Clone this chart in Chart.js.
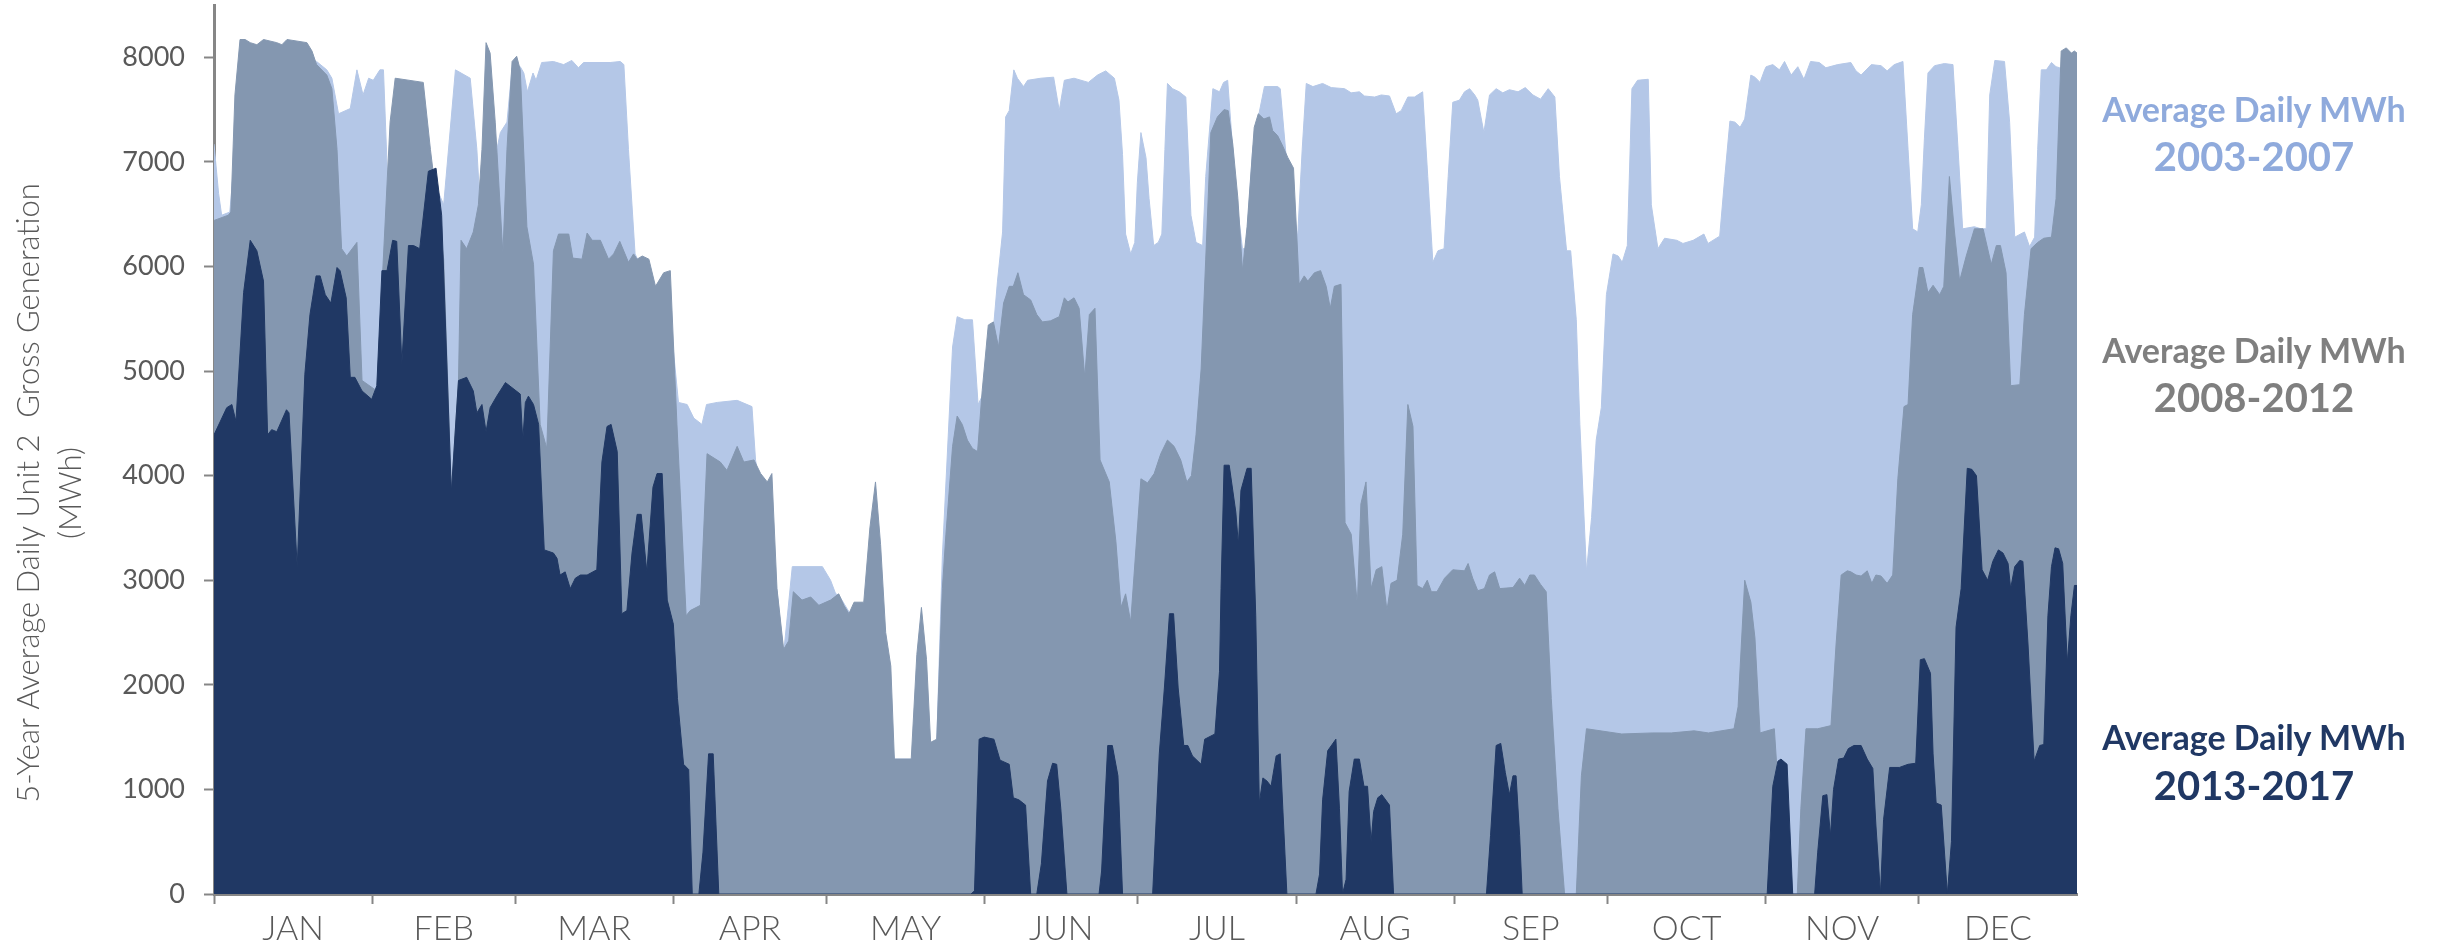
<!DOCTYPE html>
<html>
<head>
<meta charset="utf-8">
<script src="https://cdn.jsdelivr.net/npm/chart.js@4.4.0/dist/chart.umd.min.js"></script>
<style>
  html, body { margin: 0; padding: 0; background: #fff; }
  #wrap { position: relative; width: 2440px; height: 952px; }
  canvas { display: block; }
  .lbl { position: absolute; left: 2054px; width: 400px; text-align: center;
         font-family: Lato, "Open Sans", sans-serif; font-weight: 700; white-space: nowrap; }
  .l1 { font-size: 34px; line-height: 34px; }
  .l2 { font-size: 40px; line-height: 40px; }
</style>
</head>
<body>
<div id="wrap">
  <canvas id="mycanvas" width="2440" height="952"></canvas>
  <div class="lbl l1" style="top:92px;color:#8FAADC">Average Daily MWh</div>
  <div class="lbl l2" style="top:136px;color:#8FAADC">2003-2007</div>
  <div class="lbl l1" style="top:333px;color:#7F7F7F">Average Daily MWh</div>
  <div class="lbl l2" style="top:377px;color:#7F7F7F">2008-2012</div>
  <div class="lbl l1" style="top:720px;color:#203864">Average Daily MWh</div>
  <div class="lbl l2" style="top:765px;color:#203864">2013-2017</div>
</div>
<script>
// month axis
var months = ['JAN','FEB','MAR','APR','MAY','JUN','JUL','AUG','SEP','OCT','NOV','DEC'];
var monthStarts = [0,31,59,90,120,151,181,212,243,273,304,334,365];
var yTicks = [0,1000,2000,3000,4000,5000,6000,7000,8000];
var yTitle = ['5-Year Average Daily Unit 2  Gross Generation', '(MWh)'];

// 2003-2007 (day of year, MWh)
var lightDays = [0,0.9,1.5,3.1,5.5,19.5,20.1,22.1,23.1,24.4,26.7,28,29.2,30.3,31.2,32.5,33.2,34.2,35.5,41,42.3,45,47.3,50.2,51.5,52.3,54.9,56.1,57.4,58.4,59.3,
  60,60.7,61.4,62.5,63.1,64.2,66.5,68.5,70.1,71.4,72.4,77.6,79.6,80.3,81.2,82.5,86.5,89.4,91,92.7,94,95.6,96.5,98.6,102.5,105.4,106.1,110.3,111.6,113.3,119.2,120.8,121.8,
  122.4,125,128,133.3,136.6,137.7,140.4,141.6,142.7,144.7,145.6,147.1,148.6,149.7,150.5,152,153.5,154.5,155.1,155.8,156.7,157.4,158.6,159.4,162,164.5,165.6,166.6,168.5,171.3,173.1,174.7,176.4,177.3,178,178.6,179.6,180.4,180.9,181.6,182.6,
  183.2,184.1,185,185.7,186.3,186.8,187.8,189.1,190.4,191.4,192.4,193.7,194.3,195.7,197,197.8,198.6,199.2,200.2,201.5,202.2,203.5,204.4,205.8,208.4,208.9,210.4,212.3,213.2,214,215.3,217.2,218.9,221.5,222.8,224.4,225.4,227.4,228.7,230.3,231.6,232.6,233.9,235.2,236.8,237.8,238.8,239.8,241,241.8,242.7,
  244,245,246,247,247.6,248.8,249.9,251.2,252.5,253.8,255.5,256.9,258.4,259.9,261.4,262.7,263.6,265,265.8,266.9,267.6,268.9,269.9,270.8,271.8,272.8,274.1,275.1,275.9,276.9,277.8,278.9,281,281.6,282.9,284.2,286.6,287.8,289.8,291.9,292.7,295,296,297,298,299,299.9,301.1,301.9,302.9,303.8,
  304.1,305.4,306.7,307.7,309,310.3,311.5,312.8,314.5,315.8,318.1,320.7,321.7,322.7,324.7,326.6,327.8,329.2,330.9,331.9,332.8,333.8,334.5,335.1,335.8,337.1,339,340.7,341.7,342.6,344.9,346.2,347.2,347.9,348.9,350.8,351.8,352.8,354.7,355.7,356.7,357.3,358,359,360,360.9,361.6,365];
var lightMWh = [7170,6700,6490,6520,7900,7900,7960,7880,7800,7460,7510,7880,7640,7800,7780,7880,7880,6590,7700,7700,6900,6590,7880,7800,7120,6440,7000,7280,7380,7900,7900,
  7910,7850,7670,7850,7780,7950,7960,7930,7970,7900,7950,7950,7960,7930,7120,6120,5700,5500,4700,4680,4550,4490,4680,4700,4720,4660,4150,2900,2300,3130,3130,3000,2870,
  2860,2650,2700,1290,1290,1290,1400,1450,3230,5230,5520,5490,5490,4680,4760,5000,5860,6330,7430,7490,7880,7800,7720,7780,7800,7810,7490,7780,7800,7760,7830,7870,7800,7590,7070,6310,6120,6230,6800,7280,7040,
  6650,6200,6230,6310,7120,7750,7700,7670,7620,6490,6230,6200,6860,7700,7670,7760,7780,7380,6700,6170,6170,7120,7380,7720,7720,7700,6860,6280,7120,7750,7720,7750,7710,7700,7660,7670,7630,7620,7640,7630,7460,7490,7620,7620,7670,6860,6040,6150,6170,6860,7570,
  7590,7670,7700,7640,7590,7280,7640,7700,7660,7690,7670,7710,7640,7600,7700,7620,6860,6150,6150,5490,4490,3080,3600,4340,4650,5730,6120,6100,6040,6200,7700,7780,7790,6590,6170,6270,6250,6220,6250,6310,6220,6290,6860,7390,7380,7330,7410,7830,7810,7760,7880,
  7910,7930,7880,7960,7830,7910,7790,7960,7950,7900,7930,7950,7870,7830,7930,7920,7870,7930,7960,7120,6360,6330,6590,7220,7850,7920,7940,7930,7120,6360,6380,6360,6360,7640,7970,7960,7380,6280,6330,6190,6280,7120,7880,7880,7950,7910,7900,7900];

// 2008-2012
var midDays = [0,2.8,3.3,4.1,5.1,6.1,7.1,8.4,9.7,12.3,13.3,14.3,18.2,19.2,20.1,22.1,23.1,24.1,25,26,28,29,31.9,34.5,35.5,41,42.4,45,46.5,47.9,48.4,49.5,50.8,51.8,52.5,53.3,54.1,55.1,56.6,57.4,58.4,59.3,
  60,61.3,62.6,63.9,65.2,66.5,67.5,69.5,70.3,72.1,73.1,74.1,75.7,77.3,78.3,79.5,81.2,82.2,82.9,83.9,85.2,86.5,88.1,89.4,90.7,92.5,93.3,95.3,96.6,99.2,100.5,102.5,103.8,105.8,107.1,108.4,109.3,110.3,111.6,112.6,113.5,115.2,116.9,118.5,
  120.8,122.4,123.4,124.4,125.4,127.3,128.5,129.6,130.6,131.6,132.6,133.3,136.6,137.7,138.6,139.6,140.4,141.6,142.7,143.4,144.7,145.6,146.6,147.6,148.6,149.6,150.5,151.7,152.7,153.7,154.7,155.8,156.6,157.5,158.6,160,161.2,162.3,163.9,165.6,166.6,167.3,168.5,169.5,170.6,171.5,172.6,173.6,175.4,176.7,177.7,178.6,179.6,
  181.6,182.9,184.2,185.5,186.8,188.1,189.4,190.6,191.5,192.4,193.4,194.3,195.3,196.6,197.9,198.7,199.6,200.6,201.5,202.4,203.8,204.6,205.7,206.8,207.4,208.4,209.4,210.4,211.5,212.6,213.6,214.3,215.6,216.8,217.9,218.7,219.5,220.8,221.6,222.8,224,224.7,225.7,226.7,227.7,228.8,229.8,230.6,231.8,232.9,233.9,234.9,235.7,236.8,237.7,238.5,239.6,241.1,242.7,
  245,245.7,246.6,247.6,248.9,249.9,250.9,251.9,254.5,255.8,256.8,257.8,258.7,259.9,261,262,263.3,264.6,266.9,267.9,268.9,275.8,281.9,285.5,290,292.8,297.8,298.6,299.9,301.1,301.9,302.9,
  305.7,307,309.3,310.2,310.9,311.9,314.2,316.8,317.8,318.8,320,320.7,321.7,322.7,323.9,324.8,325.6,326.6,327.8,328.9,329.9,331.1,331.9,332.8,334.1,334.8,335.8,336.8,338.1,338.9,340,341,342,343.3,344.9,346.6,348.2,349.2,350,351.1,352,353.8,354.7,356,357.3,358.5,360,360.9,361.9,362.9,363.9,364.5,365];
var midMWh = [6440,6490,6520,7640,8170,8170,8140,8120,8170,8140,8120,8170,8140,8060,7930,7830,7700,7120,6170,6100,6230,4910,4810,7380,7800,7760,7120,6070,3840,4910,6250,6170,6330,6590,7120,8140,8040,7380,6120,7120,7960,8010,
  7880,6380,6020,4490,4260,6150,6310,6310,6080,6070,6320,6250,6250,6070,6120,6240,6040,6120,6070,6100,6070,5810,5940,5960,4490,2660,2710,2760,4210,4130,4050,4280,4130,4150,4020,3940,4020,2920,2340,2420,2890,2810,2840,2760,
  2810,2870,2760,2680,2790,2790,3500,3940,3340,2500,2180,1290,1290,2290,2740,2240,1450,1480,2920,3440,4280,4570,4490,4340,4260,4230,4810,5440,5470,5230,5650,5810,5810,5940,5730,5680,5540,5470,5480,5520,5700,5660,5700,5600,4940,5540,5600,4150,3940,3370,2740,2870,2600,
  3970,3930,4020,4210,4340,4280,4150,3940,4000,4390,5020,6070,7280,7430,7500,7490,7170,6650,5960,6380,7330,7460,7410,7430,7300,7250,7150,7040,6940,5830,5910,5860,5940,5960,5810,5600,5810,5830,3550,3440,2760,3730,3940,2920,3100,3130,2710,2970,3000,3440,4680,4470,2950,2920,3000,2890,2890,3020,3100,
  3090,3160,3020,2900,2920,3050,3080,2920,2930,3020,2950,3050,3050,2960,2890,1870,820,0,0,1130,1580,1530,1540,1540,1560,1540,1580,1790,3000,2790,2450,1540,
  1580,610,0,0,820,1580,1580,1610,2390,3050,3090,3080,3050,3040,3090,2970,3050,3040,2970,3050,3970,4660,4680,5540,5990,5990,5750,5820,5730,5810,6860,6330,5860,6100,6360,6360,6020,6200,6200,5940,4860,4870,5540,6170,6230,6270,6280,6650,8060,8090,8040,8060,8040];

// 2013-2017
var darkDays = [0,2.5,3.5,4.3,5.8,7.1,8.4,9.7,10.5,11.3,12.3,14.2,14.7,16.3,17.8,18.8,20,20.8,21.8,22.9,24.1,24.7,25.9,26.7,27.6,29,30.9,31.9,32.9,33.9,35,35.8,36.8,38.1,39.1,40.3,42,43.5,44.6,46.5,47.9,49.5,50.8,51.5,52.5,53.3,54.1,55.4,57.1,
  60,60.5,61,61.6,62.6,63.6,64.7,66.5,67.2,67.8,68.8,69.8,70.8,71.8,73.1,75,76,77,77.8,79,79.9,80.9,81.9,82.9,83.7,84.8,86,86.8,87.8,88.8,90,90.8,92,93,93.7,95,95.8,96.9,97.8,98.9,
  148.3,149,149.9,150.9,152.8,154,155.8,156.6,157.7,159,160,161.2,162.1,163.3,164.3,165.1,165.9,167.1,173.4,173.9,175.1,176,177.1,178,
  183.9,185.2,186.2,187.2,188,188.9,190,190.8,191.7,193.4,194.1,196.1,197,197.3,197.9,198.9,200.2,200.7,201.2,202.4,203.2,204.1,204.8,205.5,206.3,207.1,208.1,208.9,209.4,210.2,215.9,216.6,217.2,218.2,219.8,220.5,221.1,221.8,222.4,223.4,224.4,225.3,226,226.7,227.2,228,228.8,230.3,231.1,
  249.3,250.1,251.2,252.1,253,253.8,254.5,255.1,255.8,256.3,
  304.3,305.4,306.4,307,308.2,309.3,313.6,314.2,315.2,316,316.7,317.3,318.3,319.3,320.2,321.3,322.7,323.9,325,325.6,326.5,327.1,328.3,330.2,331.9,333.4,334.3,335.1,336.3,336.8,337.4,338.4,339.6,340.4,341.3,342.3,343.5,344.4,345.3,346.4,347.5,348.5,349.6,350.5,351.5,352,352.8,353.8,354.4,355.4,356.6,357.7,358.5,359.3,360,360.7,361.4,362.2,363.1,363.8,364.5,365];
var darkMWh = [4390,4650,4680,4520,5750,6250,6150,5860,4390,4440,4420,4630,4600,3130,4970,5540,5910,5910,5730,5650,5990,5960,5700,4940,4940,4810,4730,4860,5960,5960,6250,6240,5070,6200,6200,6170,6910,6940,6490,3840,4910,4940,4810,4600,4680,4420,4650,4760,4890,
  4780,4340,4700,4760,4680,4490,3290,3260,3210,3050,3080,2920,3020,3050,3050,3100,4130,4470,4490,4230,2680,2710,3260,3630,3630,3080,3890,4020,4020,2810,2580,1870,1240,1190,0,0,400,1340,1340,0,
  0,30,1480,1500,1480,1280,1240,920,900,850,0,0,290,1080,1250,1240,820,0,0,220,1420,1420,1130,0,
  0,1340,1970,2680,2680,1970,1420,1420,1320,1240,1480,1530,2130,2920,4100,4100,3650,3340,3860,4070,4070,2660,870,1110,1080,1030,1320,1340,820,0,0,190,900,1370,1480,820,0,140,980,1290,1290,1030,1030,500,790,920,950,850,0,
  0,560,1420,1440,1160,950,1130,1130,560,0,
  0,1030,1270,1290,1240,0,0,400,940,950,560,1000,1290,1300,1390,1420,1420,1290,1200,660,0,710,1210,1210,1240,1250,2240,2250,2110,1340,870,850,0,500,2550,2920,4070,4060,4000,3100,3000,3180,3290,3260,3160,2920,3130,3190,3180,2390,1270,1420,1430,2660,3130,3310,3300,3160,2210,2660,2950,2950];

function toPoints(days, vals) {
  return days.map(function(d, i){ return {x: d, y: vals[i]}; });
}

var monthMids = [];
for (var i = 0; i < months.length; i++) {
  monthMids.push((monthStarts[i] + monthStarts[i + 1]) / 2);
}
var boundaryTicks = monthStarts.slice(0, 12);

var axisGray = '#868686';
var textGray = '#595959';
var fontFamily = 'Lato, "Open Sans", sans-serif';

var yTitlePlugin = {
  id: 'yTitle',
  afterDraw: function(chart) {
    var ctx = chart.ctx;
    ctx.save();
    ctx.translate(29, 493);
    ctx.rotate(-Math.PI / 2);
    ctx.textAlign = 'center';
    ctx.textBaseline = 'middle';
    ctx.fillStyle = textGray;
    ctx.font = '300 31px ' + fontFamily;
    ctx.fillText(yTitle[0], 0, 0);
    ctx.fillText(yTitle[1], 0, 42);
    ctx.restore();
  }
};

var ctx = document.getElementById('mycanvas');
var chart = new Chart(ctx, {
  type: 'line',
  data: {
    datasets: [
      { label: '2013-2017', data: toPoints(darkDays, darkMWh),
        backgroundColor: '#203864', borderColor: '#203864', borderWidth: 1, fill: 'origin' },
      { label: '2008-2012', data: toPoints(midDays, midMWh),
        backgroundColor: '#8497B0', borderColor: '#8497B0', borderWidth: 1, fill: 'origin' },
      { label: '2003-2007', data: toPoints(lightDays, lightMWh),
        backgroundColor: '#B4C7E7', borderColor: '#B4C7E7', borderWidth: 1, fill: 'origin' }
    ]
  },
  options: {
    responsive: false,
    animation: false,
    devicePixelRatio: 1,
    elements: { point: { radius: 0 }, line: { tension: 0 } },
    layout: { padding: { top: 5, right: 363, bottom: 0, left: 0 } },
    plugins: { legend: { display: false }, tooltip: { enabled: false } },
    scales: {
      x: {
        type: 'linear', min: 0, max: 365,
        afterBuildTicks: function(scale) {
          scale.ticks = boundaryTicks.concat(monthMids).sort(function(a, b){ return a - b; })
            .map(function(v){ return {value: v}; });
        },
        afterFit: function(scale) {
          scale.height = 58;
          scale.paddingLeft = 0;
          scale.paddingRight = 0;
        },
        grid: {
          drawOnChartArea: false, tickLength: 10, tickWidth: 2,
          tickColor: function(c) {
            return (c.tick && boundaryTicks.indexOf(c.tick.value) >= 0) ? axisGray : 'rgba(0,0,0,0)';
          }
        },
        border: { color: axisGray, width: 3 },
        ticks: {
          autoSkip: false, maxRotation: 0, minRotation: 0, padding: 5,
          color: textGray, font: { family: fontFamily, size: 34, weight: '300' },
          callback: function(value) {
            var k = monthMids.indexOf(value);
            return k >= 0 ? months[k] : '';
          }
        }
      },
      y: {
        min: 0, max: 8500,
        afterBuildTicks: function(scale) {
          scale.ticks = yTicks.map(function(v){ return {value: v}; });
        },
        afterFit: function(scale) {
          scale.width = 214;
          scale.paddingTop = 0;
          scale.paddingBottom = 0;
        },
        grid: { drawOnChartArea: false, tickLength: 10, tickWidth: 2, tickColor: axisGray },
        border: { color: axisGray, width: 3 },
        ticks: {
          autoSkip: false, padding: 19,
          color: textGray, font: { family: fontFamily, size: 27 },
          callback: function(value) { return String(value); }
        }
      }
    }
  },
  plugins: [yTitlePlugin]
});
</script>
</body>
</html>
